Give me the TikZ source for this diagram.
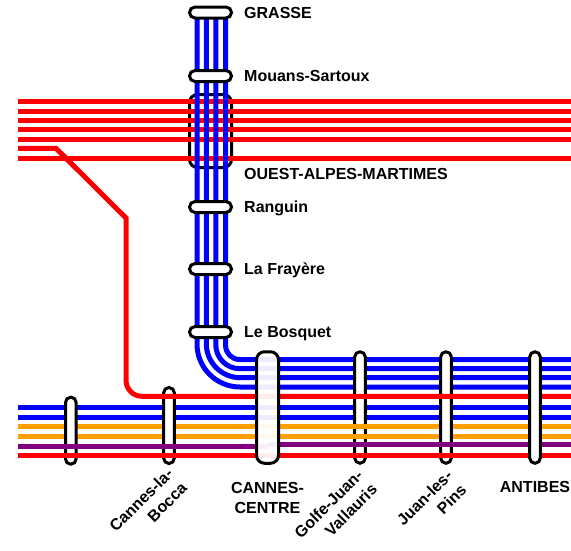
\documentclass[tikz,border=0pt]{standalone}
\usepackage{fontspec}
\setmainfont{Liberation Sans}
\usepackage{xcolor}
\usetikzlibrary{positioning}
\definecolor{linepurple}{RGB}{128,0,128}
\definecolor{lineorange}{RGB}{255,160,0}

\begin{document}
\begin{tikzpicture}[
    x=1pt, y=-1pt,
    node distance=11pt,
    track/.style={line width=5pt},
    blueline/.style={track, blue},
    redline/.style={track, red},
    orangeline/.style={track, lineorange},
    purpleline/.style={track, linepurple},
    hstation/.style={draw, line width=3pt, fill=white, rounded corners=5.5pt, inner sep=0pt, minimum width=42pt, minimum height=11pt},
    vstation/.style={draw, line width=3pt, fill=white, rounded corners=5.2pt, inner sep=0pt, minimum width=10.6pt},
    station label/.style={font=\bfseries\fontsize{16}{20}\selectfont, inner sep=0pt, align=center},
    side label/.style={station label, text height=11.5pt, text depth=0pt},
    slant label/.style={station label, align=right, rotate=45}
  ]
    \useasboundingbox (0,0) rectangle (571,550);

    \coordinate (west) at (18,0);
    \coordinate (east) at (571,0);
    \coordinate (top1) at (0,101.3);
    \coordinate (top2) at (0,111);
    \coordinate (top3) at (0,120.3);
    \coordinate (top4) at (0,129.7);
    \coordinate (top5) at (0,139.3);
    \coordinate (top6) at (0,158.3);
    \coordinate (bra1) at (56,148.3);
    \coordinate (bra2) at (126,218);
    \coordinate (bra3) at (126,300);
    \coordinate (bra4) at (126,396.3);
    \coordinate (nor1) at (0,359.5);
    \coordinate (nor2) at (0,368.7);
    \coordinate (nor3) at (0,377.7);
    \coordinate (nor4) at (0,387);
    \coordinate (sou1) at (0,407.3);
    \coordinate (sou2) at (0,417);
    \coordinate (ora1) at (0,426.7);
    \coordinate (ora2) at (0,436);
    \coordinate (pur1) at (0,446);
    \coordinate (pur2) at (0,444.3);
    \coordinate (pursplit) at (267.5,0);
    \coordinate (low1) at (0,455);
    \coordinate (ver1) at (197,12.5);
    \coordinate (ver2) at (206.3,12.5);
    \coordinate (ver3) at (215.8,12.5);
    \coordinate (ver4) at (225.6,12.5);

    \node[draw, line width=3pt, rounded corners=8pt, inner sep=0pt, minimum width=42pt, minimum height=73pt] (ouest) at (210.5,131) {};

    \draw[redline] (top1 -| west) -- (top1 -| east);
    \draw[redline] (top2 -| west) -- (top2 -| east);
    \draw[redline] (top3 -| west) -- (top3 -| east);
    \draw[redline] (top4 -| west) -- (top4 -| east);
    \draw[redline] (top5 -| west) -- (top5 -| east);
    \draw[redline] (top6 -| west) -- (top6 -| east);

    \draw[blueline, rounded corners=43pt] (ver1) -- (ver1 |- nor4) -- (nor4 -| east);
    \draw[blueline, rounded corners=34pt] (ver2) -- (ver2 |- nor3) -- (nor3 -| east);
    \draw[blueline, rounded corners=24pt] (ver3) -- (ver3 |- nor2) -- (nor2 -| east);
    \draw[blueline, rounded corners=14pt] (ver4) -- (ver4 |- nor1) -- (nor1 -| east);
    \draw[blueline] (sou1 -| west) -- (sou1 -| east);
    \draw[blueline] (sou2 -| west) -- (sou2 -| east);

    \node[hstation] (grasse) at (210.5,12.5) {};
    \node[hstation] (mouans) at (210.5,76) {};
    \node[hstation] (ranguin) at (210.5,207) {};
    \node[hstation] (frayere) at (210.5,269) {};
    \node[hstation] (bosquet) at (210.5,332) {};

    \node[vstation, minimum height=111.5pt] (golfe) at (360,407.5) {};

    \draw[orangeline] (ora1 -| west) -- (ora1 -| east);
    \draw[orangeline] (ora2 -| west) -- (ora2 -| east);

    \node[vstation, minimum height=67pt] (westhalt) at (70.8,430.7) {};
    \node[vstation, minimum height=76pt] (bocca) at (169,425.5) {};
    \node[vstation, minimum height=111.5pt] (juan) at (446,407.5) {};

    \draw[redline] (bra1 -| west) -- (bra1) -- (bra2) -- (bra3) [rounded corners=16pt] -- (bra4) -- (bra4 -| east);
    \draw[purpleline] (pur1 -| west) -- (pur1 -| pursplit);
    \draw[purpleline] (pur2 -| pursplit) -- (pur2 -| east);
    \draw[redline] (low1 -| west) -- (low1 -| east);

    \node[vstation, fill opacity=0.93, minimum width=22pt, rounded corners=8pt, minimum height=111.5pt] (centre) at (267.5,407.5) {};
    \node[vstation, minimum height=111.5pt] (antibes) at (535,407.5) {};

    \node[side label, right=of grasse] (grassetext) {GRASSE};
    \node[side label, right=of mouans] (mouanstext) {Mouans-Sartoux};
    \node[side label, right=of ouest.south east, yshift=-5pt] (ouesttext) {OUEST-ALPES-MARTIMES};
    \node[side label, right=of ranguin] (ranguintext) {Ranguin};
    \node[side label, right=of frayere] (frayeretext) {La Frayère};
    \node[side label, right=of bosquet] (bosquettext) {Le Bosquet};
    \node[slant label] (boccatext) at (148,507) {Cannes-la-\\Bocca};
    \node[station label, below=17pt of centre] (centretext) {CANNES-\\CENTRE};
    \node[slant label] (golfetext) at (335.5,511) {Golfe-Juan-\\Vallauris};
    \node[slant label] (juantext) at (431.5,505) {Juan-les-\\Pins};
    \node[station label, below=16pt of antibes] (antibestext) {ANTIBES};
\end{tikzpicture}
\end{document}
